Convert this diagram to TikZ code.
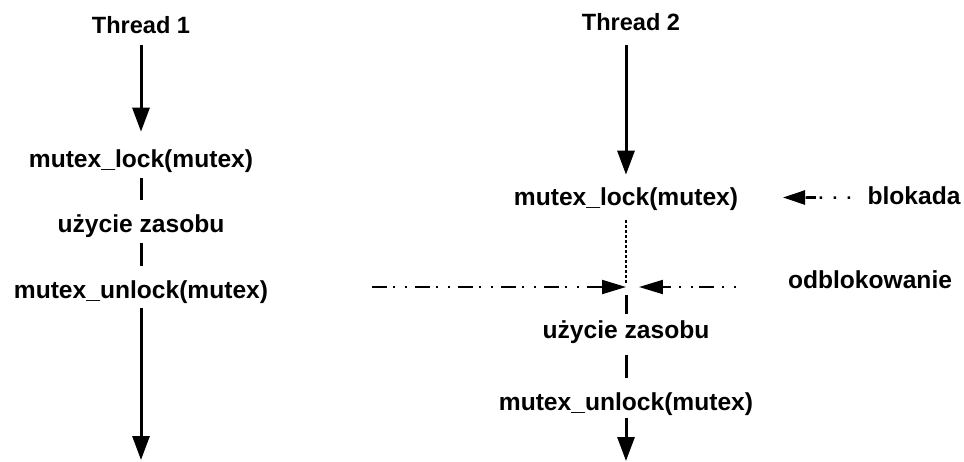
\documentclass[tikz,border=0pt]{standalone}
\usepackage{fontspec}
\setmainfont{Liberation Sans}
\usetikzlibrary{arrows.meta}

\begin{document}
\begin{tikzpicture}[
  x=0.02cm, y=-0.02cm,
  lbl/.style={font=\fontsize{14}{16}\selectfont\bfseries, inner sep=0pt,
              text height=0.36cm, text depth=0.1cm, anchor=base},
  head/.style={font=\fontsize{13.4}{16}\selectfont\bfseries},
  flow/.style={line width=0.06cm, -{Triangle[length=0.48cm, width=0.34cm]}},
  seg/.style={line width=0.06cm, shorten <=0.12cm, shorten >=0.28cm},
  signal/.style={line width=0.04cm,
              dash pattern=on 0.3cm off 0.12cm on 0.04cm off 0.2cm on 0.04cm off 0.16cm,
              -{Triangle[length=0.48cm, width=0.28cm]}},
  wait/.style={line width=0.6pt, dash pattern=on 0.06cm off 0.04cm},
  block/.style={line width=0.05cm, dash pattern=on 0.05cm off 0.23cm,
              -{Rectangle[length=0.24cm, width=0.05cm] Triangle[length=0.44cm, width=0.28cm]}}
]
  \useasboundingbox (0,0) rectangle (964,461);

  % thread 1
  \node[lbl, head] (t1) at (141,33) {Thread 1};
  \node[lbl] (lock1)   at (141,167) {mutex\_lock(mutex)};
  \node[lbl] (use1)    at (141,232) {użycie zasobu};
  \node[lbl] (unlock1) at (141,298) {mutex\_unlock(mutex)};
  \coordinate (end1) at (141,460);

  \draw[flow, shorten <=0.14cm, shorten >=0.34cm] (t1) -- (lock1);
  \draw[seg] (lock1) -- (use1);
  \draw[seg] (use1) -- (unlock1);
  \draw[flow, shorten <=0.1cm] (unlock1) -- (end1);

  % thread 2
  \node[lbl, head] (t2) at (631,30) {Thread 2};
  \node[lbl] (lock2)   at (626,205) {mutex\_lock(mutex)};
  \node[lbl] (use2)    at (626,338) {użycie zasobu};
  \node[lbl] (unlock2) at (626,410) {mutex\_unlock(mutex)};
  \coordinate (t2foot) at (626,35);
  \coordinate (meet) at (626,287);
  \coordinate (end2) at (626,461);

  \draw[flow, shorten <=0.2cm, shorten >=0.24cm] (t2foot) -- (lock2);
  \draw[wait, shorten <=0.2cm, shorten >=0.08cm] (lock2) -- (meet);
  \draw[line width=0.06cm, shorten <=0.16cm, shorten >=0.12cm] (meet) -- (use2);
  \draw[seg, shorten <=0.24cm] (use2) -- (unlock2);
  \draw[flow, shorten <=0.06cm] (unlock2) -- (end2);

  % signals
  \node[lbl] (blok) at (914,204) {blokada};
  \node[lbl] (odb)  at (870,288) {odblokowanie};
  \coordinate (blokTip) at (783,197.5);
  \coordinate (sigL) at (372,287);
  \coordinate (sigR) at (742,287);

  \draw[block, shorten <=0.34cm] (blok) -- (blokTip);
  \draw[signal] (sigL) -- (meet);
  \draw[signal, dash phase=0.3cm, shorten >=0.26cm] (sigR) -- (meet);
\end{tikzpicture}
\end{document}
